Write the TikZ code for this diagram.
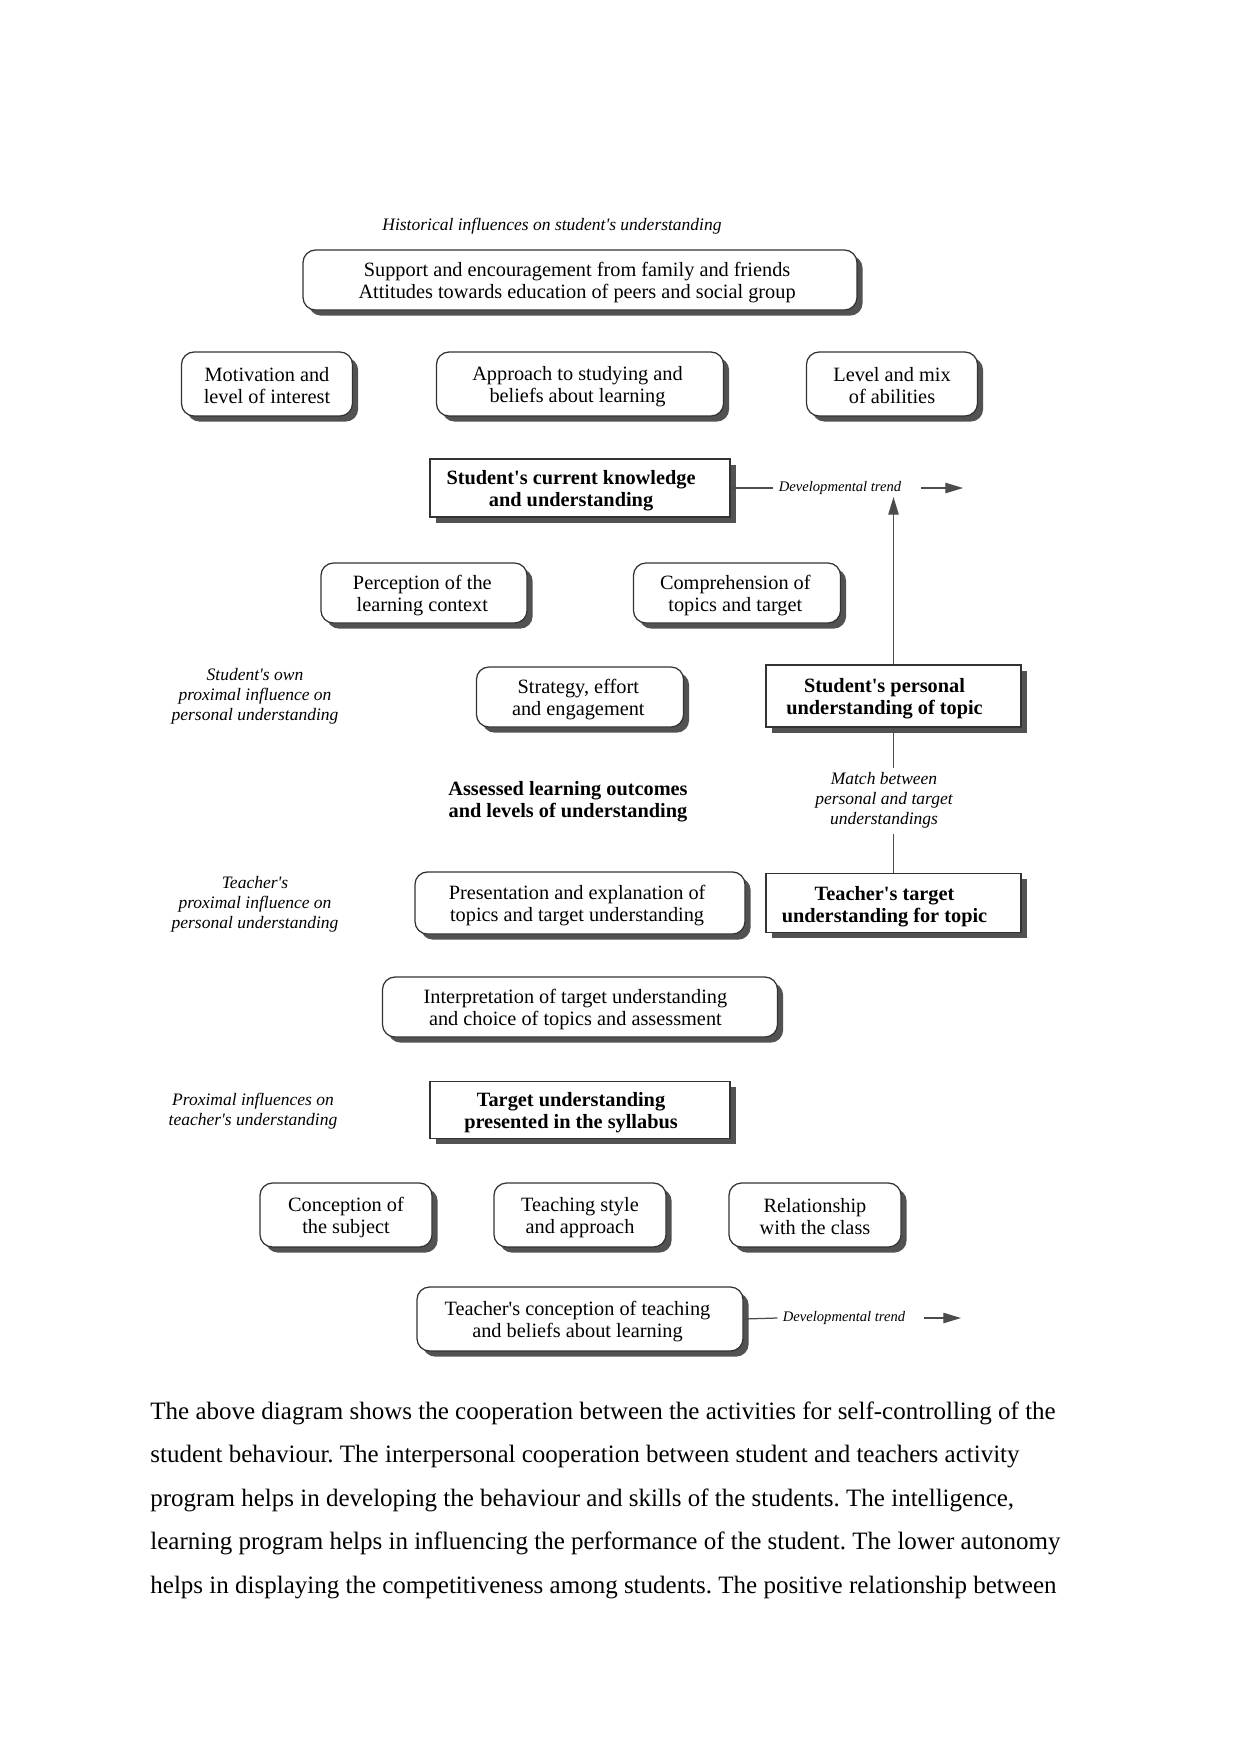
\documentclass[tikz,border=0pt]{standalone}
\usepackage{fontspec}
\setmainfont{Liberation Serif}
\usetikzlibrary{shadows,arrows.meta}
\newcommand{\q}{\textquotesingle}
\begin{document}
\begin{tikzpicture}[x=0.48pt,y=-0.48pt,
  shbox/.style={draw=black!80,line width=0.6pt,fill=white,inner sep=0pt,
    drop shadow={shadow xshift=2.7pt,shadow yshift=-2.7pt,fill=black!68,opacity=1}},
  rbox/.style={shbox,rounded corners=6pt},
  sbox/.style={shbox},
  rtxt/.style={align=center,inner sep=0pt,font=\fontsize{9.75}{10.5}\selectfont},
  stxt/.style={align=center,inner sep=0pt,font=\fontsize{9.75}{10.5}\selectfont\bfseries},
  lbl/.style={align=center,font=\fontsize{8.4}{9.7}\selectfont\itshape},
  dtr/.style={font=\fontsize{7}{8}\selectfont\itshape,inner sep=2.5pt},
  conn/.style={draw=black!70,line width=0.6pt},
  arr/.style={draw=black!70,line width=0.6pt,-{Triangle[length=8.5pt,width=5pt]}},
  para/.style={anchor=base west,inner sep=0pt,font=\fontsize{12}{14}\selectfont}]
\useasboundingbox (0,0) rectangle (1241,1754);
\frenchspacing

\node[lbl] (hlab) at (552,226) {Historical influences on student\q s understanding};
\node[rbox,minimum width=265.9pt,minimum height=28.8pt] (hist) at (580,280) {};
\node[rtxt] (histt) at ([xshift=-1.4pt,yshift=-1.4pt]hist.center)
  {Support and encouragement from family and friends\\Attitudes towards education of peers and social group};

\node[rbox,minimum width=82.1pt,minimum height=30.7pt] (motiv) at (267,384) {};
\node[rtxt] (motivt) at ([yshift=-0.8pt]motiv.center) {Motivation and\\level of interest};
\node[rbox,minimum width=137.8pt,minimum height=30.7pt] (appr) at (580,384) {};
\node[rtxt] (apprt) at ([xshift=-1.2pt,yshift=-1.2pt]appr.center) {Approach to studying and\\beliefs about learning};
\node[rbox,minimum width=82.1pt,minimum height=30.7pt] (level) at (892,384) {};
\node[rtxt] (levelt) at ([yshift=-0.8pt]level.center) {Level and mix\\of abilities};

\node[sbox,minimum width=144pt,minimum height=27.8pt] (curr) at (580,488) {};
\node[stxt] (currt) at ([xshift=-4.3pt,yshift=-1.4pt]curr.center) {Student\q s current knowledge\\and understanding};
\node[dtr] (dt1) at (840,488) {Developmental trend};
\coordinate (a1s) at (921,488);
\coordinate (a1e) at (963,488);
\draw[conn] (curr.east) -- (dt1.west);
\draw[arr] (a1s) -- (a1e);

\node[rbox,minimum width=98.9pt,minimum height=28.8pt] (perc) at (424,593) {};
\node[rtxt] (perct) at ([xshift=-0.8pt,yshift=-1.2pt]perc.center) {Perception of the\\learning context};
\node[rbox,minimum width=99.4pt,minimum height=28.8pt] (comp) at (737,593) {};
\node[rtxt] (compt) at ([xshift=-0.8pt,yshift=-1.2pt]comp.center) {Comprehension of\\topics and target};

\node[lbl] (slab) at (255,696) {Student\q s own\\proximal influence on\\personal understanding};
\node[rbox,minimum width=99.4pt,minimum height=28.8pt] (strat) at (580,697) {};
\node[rtxt] (stratt) at ([xshift=-0.8pt,yshift=-1.2pt]strat.center) {Strategy, effort\\and engagement};
\node[sbox,minimum width=122.4pt,minimum height=29.8pt] (pers) at (893.5,696) {};
\node[stxt] (perst) at ([xshift=-4.3pt,yshift=-1.4pt]pers.center) {Student\q s personal\\understanding of topic};
\coordinate (up) at (893.5,497);
\draw[arr] (pers.north) -- (up);

\node[align=center,font=\fontsize{9.75}{10.5}\selectfont\bfseries] (asse) at (568,802) {Assessed learning outcomes\\and levels of understanding};
\node[lbl] (match) at (884,800) {Match between\\personal and target\\understandings};
\coordinate (m1) at (893.5,768);
\coordinate (m2) at (893.5,834);
\draw[conn] (pers.south) -- (m1);

\node[lbl] (tlab) at (255,904) {Teacher\q s\\proximal influence on\\personal understanding};
\node[rbox,minimum width=158.4pt,minimum height=29.8pt] (pres) at (580,903) {};
\node[rtxt] (prest) at ([xshift=-1.4pt,yshift=-1.4pt]pres.center) {Presentation and explanation of\\topics and target understanding};
\node[sbox,minimum width=122.4pt,minimum height=28.3pt] (targ) at (893.5,903) {};
\node[stxt] (targt) at ([xshift=-4.3pt,yshift=-1.6pt]targ.center) {Teacher\q s target\\understanding for topic};
\draw[conn] (m2) -- (targ.north);

\node[rbox,minimum width=189.6pt,minimum height=28.8pt] (interp) at (580,1007) {};
\node[rtxt] (interpt) at ([xshift=-2.2pt,yshift=-1.4pt]interp.center) {Interpretation of target understanding\\and choice of topics and assessment};

\node[lbl] (plab) at (253,1111) {Proximal influences on\\teacher\q s understanding};
\node[sbox,minimum width=144pt,minimum height=27.4pt] (syll) at (580,1110) {};
\node[stxt] (syllt) at ([xshift=-4.3pt,yshift=-1.4pt]syll.center) {Target understanding\\presented in the syllabus};

\node[rbox,minimum width=82.6pt,minimum height=30.7pt] (conc) at (346,1215) {};
\node[rtxt] (conct) at ([yshift=-1.2pt]conc.center) {Conception of\\the subject};
\node[rbox,minimum width=82.6pt,minimum height=30.7pt] (teach) at (580,1215) {};
\node[rtxt] (teacht) at ([yshift=-1.2pt]teach.center) {Teaching style\\and approach};
\node[rbox,minimum width=82.6pt,minimum height=30.7pt] (rel) at (815,1215) {};
\node[rtxt] (relt) at ([yshift=-0.8pt]rel.center) {Relationship\\with the class};

\node[rbox,minimum width=156.5pt,minimum height=30.7pt] (tconc) at (580,1319) {};
\node[rtxt] (tconct) at ([xshift=-1.2pt,yshift=-1.4pt]tconc.center) {Teacher\q s conception of teaching\\and beliefs about learning};
\node[dtr] (dt2) at (844,1318) {Developmental trend};
\coordinate (a2s) at (924,1318);
\coordinate (a2e) at (961,1318);
\draw[conn] (tconc.east) -- (dt2.west);
\draw[arr] (a2s) -- (a2e);

\node[para] (p1) at (150,1419) {The above diagram shows the cooperation between the activities for self-controlling of the};
\node[para] (p2) at (150,1462.5) {student behaviour. The interpersonal cooperation between student and teachers activity};
\node[para] (p3) at (150,1506) {program helps in developing the behaviour and skills of the students. The intelligence,};
\node[para] (p4) at (150,1549.5) {learning program helps in influencing the performance of the student. The lower autonomy};
\node[para] (p5) at (150,1593) {helps in displaying the competitiveness among students. The positive relationship between};
\end{tikzpicture}
\end{document}
